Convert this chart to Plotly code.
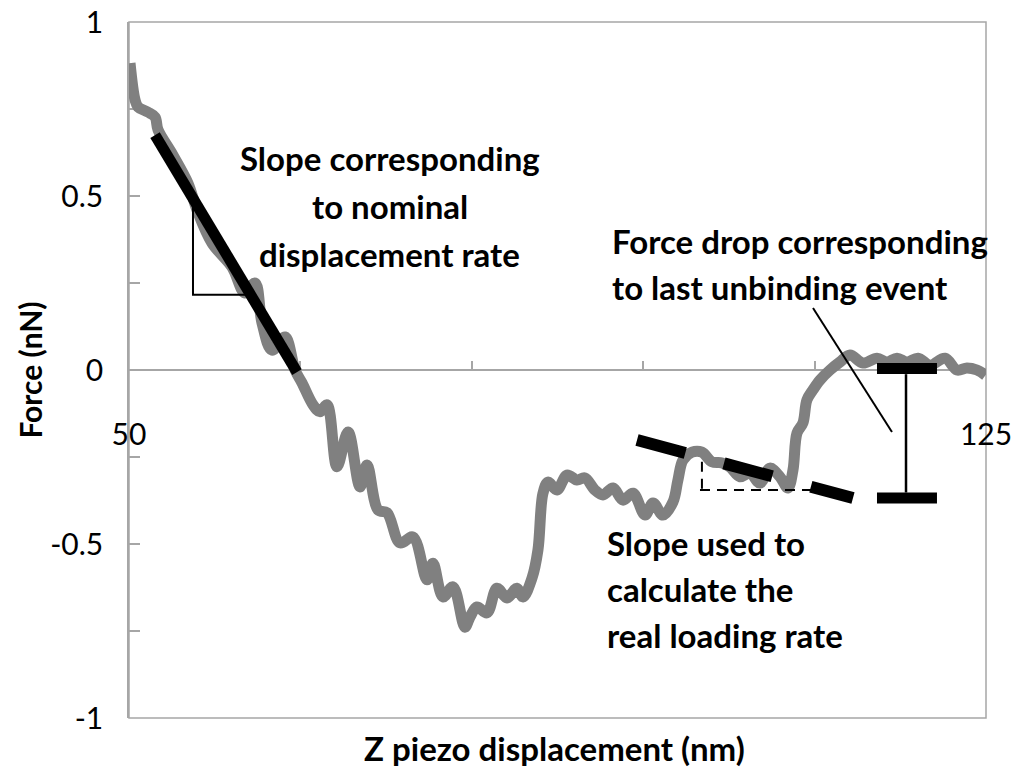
import plotly.graph_objects as go

# ---- data: force curve ----
z_nm = [50.09, 50.53, 50.79, 51.66, 52.28, 52.54, 53.8, 55.16, 55.95, 57.26, 59.01, 60.15, 61.03,
        61.64, 62.51, 63.65, 64.53, 65.14, 66.10, 66.71, 67.33, 68.20, 69.17, 70.22, 70.83,
        71.79, 72.58, 73.72, 74.85, 76.08, 76.60, 77.48, 78.35, 79.40, 79.84, 80.45, 81.33,
        82.20, 83.08, 83.95, 84.48, 85.27, 85.79, 86.23, 86.67, 87.45, 88.33, 89.20, 89.90,
        90.78, 91.48, 92.36, 93.23, 94.11, 95.16, 95.86, 96.73, 97.61, 98.04, 98.48, 99.27,
        100.14, 101.02, 101.90, 102.59, 103.47, 104.34, 105.22, 106.09, 106.97, 107.67,
        108.11, 108.46, 108.98, 109.33, 109.86, 110.47, 111.35, 112.22, 113.10, 114.23,
        115.46, 116.33, 117.21, 118.08, 119.05, 120.10, 121.41, 122.46, 123.33, 124.21, 124.95]
force_nN = [0.882, 0.776, 0.756, 0.741, 0.727, 0.69, 0.62, 0.537, 0.46, 0.365, 0.296, 0.221, 0.25,
            0.135, 0.057, 0.095, 0.0, -0.037, -0.1, -0.12, -0.1, -0.278, -0.178, -0.336, -0.273,
            -0.402, -0.41, -0.497, -0.48, -0.603, -0.555, -0.652, -0.623, -0.739, -0.71, -0.681,
            -0.698, -0.627, -0.655, -0.627, -0.652, -0.598, -0.517, -0.354, -0.322, -0.345,
            -0.302, -0.316, -0.31, -0.345, -0.359, -0.339, -0.374, -0.354, -0.417, -0.382,
            -0.417, -0.379, -0.316, -0.259, -0.236, -0.236, -0.264, -0.267, -0.279, -0.307,
            -0.296, -0.325, -0.282, -0.307, -0.339, -0.287, -0.181, -0.152, -0.086, -0.057,
            -0.029, 0.0, 0.023, 0.043, 0.02, 0.034, 0.023, 0.034, 0.023, 0.034, 0.014, 0.034,
            0.0, 0.006, 0.0, -0.015]

# ---- annotation geometry (data units) ----
nominal_x = [52.28, 64.70]
nominal_y = [0.675, -0.006]
triangle_x = [55.60, 55.60, 60.15]
triangle_y = [0.474, 0.216, 0.216]
real_slope_x = [94.46, 113.36]
real_slope_y = [-0.201, -0.368]
ref_h_x = [99.97, 109.86]
ref_h_y = [-0.345, -0.345]
ref_v_x = [100.14, 100.14]
ref_v_y = [-0.264, -0.345]
ibeam_top_x = [115.46, 120.71]
ibeam_top_y = [0.004, 0.004]
ibeam_bot_x = [115.46, 120.71]
ibeam_bot_y = [-0.368, -0.368]
ibeam_v_x = [118.0, 118.0]
ibeam_v_y = [-0.012, -0.352]
leader_x = [109.86, 116.77]
leader_y = [0.178, -0.178]

x_ticks = [50, 65, 80, 95, 110, 125]
x_ticktext = ["50", "", "", "", "", "125"]
y_ticks = [-1, -0.75, -0.5, -0.25, 0, 0.25, 0.5, 0.75, 1]
y_ticktext = ["-1", "", "-0.5", "", "0", "", "0.5", "", "1"]

FONT = "Lato"
GRID = "#a6a6a6"

fig = go.Figure()
fig.add_trace(go.Scatter(x=z_nm, y=force_nN, mode="lines",
                         line=dict(color="#808080", width=11, shape="spline", smoothing=1.0),
                         hoverinfo="skip"))

def seg(xs, ys, width, dash="solid", color="black"):
    fig.add_trace(go.Scatter(x=xs, y=ys, mode="lines",
                             line=dict(color=color, width=width, dash=dash),
                             hoverinfo="skip"))

seg(nominal_x, nominal_y, 11)
seg(triangle_x, triangle_y, 2)
seg(real_slope_x, real_slope_y, 12, dash="50px,40px")
seg(ref_h_x, ref_h_y, 2, dash="10px,7px")
seg(ref_v_x, ref_v_y, 2, dash="10px,7px")
seg(ibeam_top_x, ibeam_top_y, 11)
seg(ibeam_bot_x, ibeam_bot_y, 11)
seg(ibeam_v_x, ibeam_v_y, 2.5)
seg(leader_x, leader_y, 2)

texts = [
    ("Slope corresponding", 72.84, 0.608, "center"),
    ("to nominal", 72.84, 0.471, "center"),
    ("displacement rate", 72.84, 0.333, "center"),
    ("Force drop corresponding", 92.09, 0.370, "left"),
    ("to last unbinding event", 92.09, 0.238, "left"),
    ("Slope used to", 91.66, -0.497, "left"),
    ("calculate the", 91.66, -0.629, "left"),
    ("real loading rate", 91.66, -0.761, "left"),
]
for t, x, y, anchor in texts:
    fig.add_annotation(x=x, y=y, text=t, showarrow=False, xanchor=anchor, yanchor="middle",
                       font=dict(family=FONT, size=33, color="black", weight="bold"))

fig.add_annotation(x=0.497, y=-0.043, xref="paper", yref="paper", text="Z piezo displacement (nm)",
                   showarrow=False, xanchor="center", yanchor="middle",
                   font=dict(family=FONT, size=33, color="black", weight="bold"))
fig.add_annotation(x=-0.116, y=0.5, xref="paper", yref="paper", text="Force (nN)", textangle=-90,
                   showarrow=False, xanchor="center", yanchor="middle",
                   font=dict(family=FONT, size=30, color="black", weight="bold"))

fig.add_shape(type="rect", xref="paper", yref="paper", x0=0, x1=1, y0=0, y1=1,
              line=dict(color=GRID, width=1.5), layer="below")

fig.update_layout(
    width=1016, height=767,
    margin=dict(l=129, r=30, t=22, b=49, autoexpand=False),
    paper_bgcolor="white", plot_bgcolor="white",
    showlegend=False,
    xaxis=dict(range=[50, 125], anchor="free", position=0.5, showline=True, linecolor=GRID,
               linewidth=1.5, ticks="inside", ticklen=8, tickcolor=GRID, tickwidth=1.5,
               tickvals=x_ticks, ticktext=x_ticktext, showgrid=False, zeroline=False,
               ticklabelstandoff=38, layer="below traces", automargin=False,
               tickfont=dict(family=FONT, size=30, color="black")),
    yaxis=dict(range=[-1, 1], showline=True, linecolor=GRID, linewidth=1.5, ticks="inside",
               ticklen=11, tickcolor=GRID, tickwidth=1.5, tickvals=y_ticks, ticktext=y_ticktext,
               showgrid=False, zeroline=False, ticklabelstandoff=18, layer="below traces",
               automargin=False,
               tickfont=dict(family=FONT, size=30, color="black")),
)

fig.write_html("out.html", config={"displayModeBar": False},
               post_script="document.body.style.margin='0';document.body.style.overflow='hidden';")
